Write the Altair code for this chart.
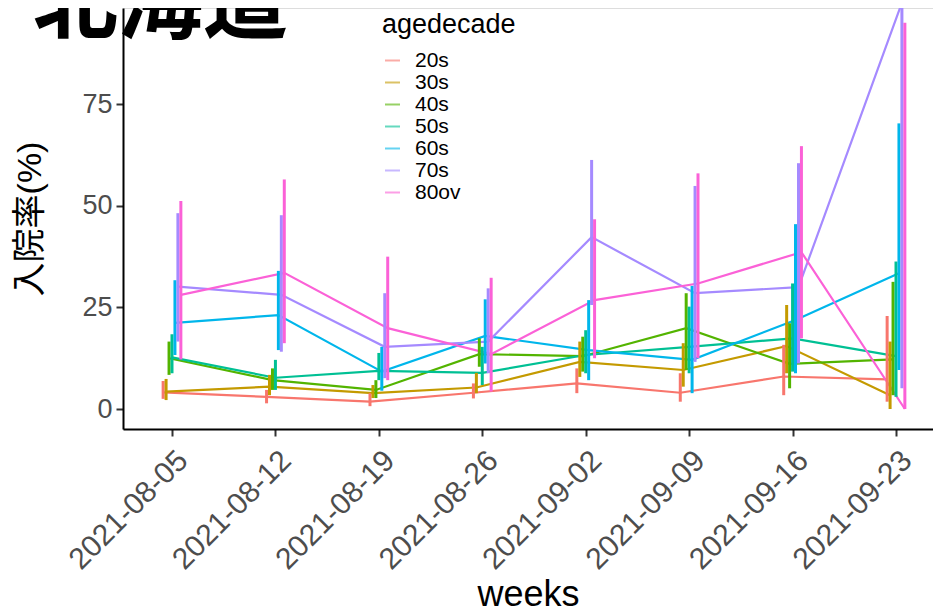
import json
import altair as alt
import pandas as pd

# ---- data ----
weeks = ["2021-08-05", "2021-08-12", "2021-08-19", "2021-08-26",
         "2021-09-02", "2021-09-09", "2021-09-16", "2021-09-23"]
groups = ["20s", "30s", "40s", "50s", "60s", "70s", "80ov"]
colors = ["#F8766D", "#C49A00", "#53B400", "#00C094", "#00B6EB", "#A58AFF", "#FB61D7"]

rate_20s = [4.1, 3.0, 1.8, 4.0, 6.3, 4.0, 8.0, 7.3]
lo_20s   = [2.5, 1.4, 0.7, 2.6, 3.9, 1.8, 3.4, 1.8]
hi_20s   = [6.9, 4.7, 3.9, 6.3, 10.0, 8.8, 15.8, 22.9]

rate_30s = [4.3, 5.5, 3.9, 5.3, 11.6, 9.6, 15.5, 3.4]
lo_30s   = [2.2, 3.4, 2.7, 3.9, 7.9, 5.5, 8.8, 0.0]
hi_30s   = [7.4, 8.4, 5.9, 8.9, 16.6, 16.2, 25.6, 16.6]

rate_40s = [12.5, 7.1, 4.7, 13.5, 13.0, 19.9, 11.1, 12.2]
lo_40s   = [8.4, 4.7, 2.7, 10.4, 9.2, 9.6, 5.1, 3.4]
hi_40s   = [16.6, 10.0, 7.1, 17.4, 17.8, 28.5, 21.1, 31.3]

rate_50s = [12.7, 7.7, 9.4, 8.9, 13.3, 15.3, 17.4, 13.0]
lo_50s   = [8.8, 4.7, 7.1, 5.9, 8.8, 8.8, 9.2, 3.0]
hi_50s   = [18.4, 12.1, 13.8, 15.3, 19.4, 25.2, 30.9, 36.3]

rate_60s = [21.2, 23.1, 9.2, 18.0, 14.5, 12.1, 21.9, 33.4]
lo_60s   = [13.3, 14.5, 4.5, 11.2, 7.1, 3.9, 8.8, 9.6]
hi_60s   = [31.7, 34.0, 15.3, 27.0, 26.8, 30.3, 45.5, 70.3]

rate_70s = [30.1, 28.1, 15.3, 16.6, 42.3, 28.5, 30.0, 100.0]
lo_70s   = [16.6, 14.1, 7.6, 8.8, 25.6, 11.6, 11.2, 5.1]
hi_70s   = [48.2, 47.7, 28.5, 29.7, 61.3, 54.9, 60.5, 100.0]

rate_80ov = [28.1, 33.5, 19.9, 13.5, 26.8, 30.9, 38.6, 0.0]
lo_80ov   = [12.2, 16.2, 7.1, 4.3, 12.5, 12.5, 17.4, 0.0]
hi_80ov   = [51.2, 56.5, 37.5, 32.3, 46.7, 58.0, 64.7, 95.1]

series = {
    "20s": (rate_20s, lo_20s, hi_20s),
    "30s": (rate_30s, lo_30s, hi_30s),
    "40s": (rate_40s, lo_40s, hi_40s),
    "50s": (rate_50s, lo_50s, hi_50s),
    "60s": (rate_60s, lo_60s, hi_60s),
    "70s": (rate_70s, lo_70s, hi_70s),
    "80ov": (rate_80ov, lo_80ov, hi_80ov),
}

rows = []
for g in groups:
    r, lo, hi = series[g]
    for w, a, b, c in zip(weeks, r, lo, hi):
        rows.append({"week": w, "agedecade": g, "rate": a, "lo": b, "hi": c})
df = pd.DataFrame(rows)

# dodge step (days) between groups at one week
DODGE_DAYS = 0.2
dodge_expr = (f"time(toDate(datum.week)) + (indexof({json.dumps(groups)}, datum.agedecade) - 3)"
              f" * {DODGE_DAYS} * 86400000")

FONT = "Liberation Sans, Noto Sans CJK JP"

tick_values = []
for w in weeks:
    y, m, d = (int(p) for p in w.split("-"))
    tick_values.append(alt.DateTime(year=y, month=m, date=d, utc=True))

x_scale = alt.Scale(
    type="utc",
    domain=[alt.DateTime(year=2021, month=8, date=1, hours=16, minutes=25, utc=True),
            alt.DateTime(year=2021, month=9, date=25, hours=12, minutes=6, utc=True)],
)
y_scale = alt.Scale(domain=[-4.92, 98.7], nice=False, zero=False)

x_enc = alt.X(
    "xd:T", scale=x_scale, title="weeks",
    axis=alt.Axis(values=tick_values, format="%Y-%m-%d", labelAngle=-45,
                  labelOverlap=False, labelBound=False,
                  labelFontSize=30, labelColor="#4D4D4D", labelFont=FONT,
                  labelPadding=9, titleFontSize=36, titleFont=FONT,
                  titleFontWeight="normal", titleColor="black", titlePadding=3,
                  tickSize=7, tickWidth=2, tickColor="#333333",
                  domainColor="black", domainWidth=2, grid=False),
)
y_enc = alt.Y(
    "rate:Q", scale=y_scale, title="入院率(%)",
    axis=alt.Axis(values=[0, 25, 50, 75], labelFontSize=27, labelColor="#4D4D4D",
                  labelFont=FONT, labelPadding=4, titleFontSize=34, titleFont=FONT,
                  titleFontWeight="normal", titleColor="black", titlePadding=34,
                  tickSize=7, tickWidth=2, tickColor="#333333",
                  domainColor="black", domainWidth=2, grid=False),
)
color_enc = alt.Color(
    "agedecade:N", scale=alt.Scale(domain=groups, range=colors), title="agedecade",
    legend=alt.Legend(orient="none", legendX=259, legendY=4, padding=0,
                      titleFontSize=27, titleFont=FONT, titleFontWeight="normal",
                      titleColor="black", titlePadding=11,
                      labelFontSize=21, labelFont=FONT, labelColor="black",
                      labelOffset=12, rowPadding=0,
                      symbolType="stroke", symbolSize=225, symbolStrokeWidth=2,
                      symbolOpacity=0.6),
)

base = alt.Chart(df).transform_calculate(xd=dodge_expr)

lines = base.mark_line(strokeWidth=2.2, clip=True).encode(
    x=x_enc, y=y_enc, color=color_enc, detail="agedecade:N",
)
bars = base.mark_rule(strokeWidth=3, clip=True).encode(
    x=alt.X("xd:T", scale=x_scale),
    y=alt.Y("lo:Q", scale=y_scale),
    y2="hi:Q",
    color=alt.Color("agedecade:N", scale=alt.Scale(domain=groups, range=colors), legend=None),
)

title_df = pd.DataFrame({"label": ["北海道"]})
title = alt.Chart(title_df).mark_text(
    font="Noto Sans CJK JP", fontWeight="bold", fontSize=85, align="left",
    baseline="alphabetic", color="black",
).encode(text="label:N", x=alt.value(-90), y=alt.value(24))

chart = alt.layer(lines, bars, title).properties(
    width=810, height=421,
    autosize=alt.AutoSizeParams(type="none"),
    padding={"left": 115, "top": 0, "right": 0, "bottom": 186},
).configure_view(stroke=None).configure(background="white")

chart.save("out.html", embed_options={"renderer": "svg", "actions": False})
